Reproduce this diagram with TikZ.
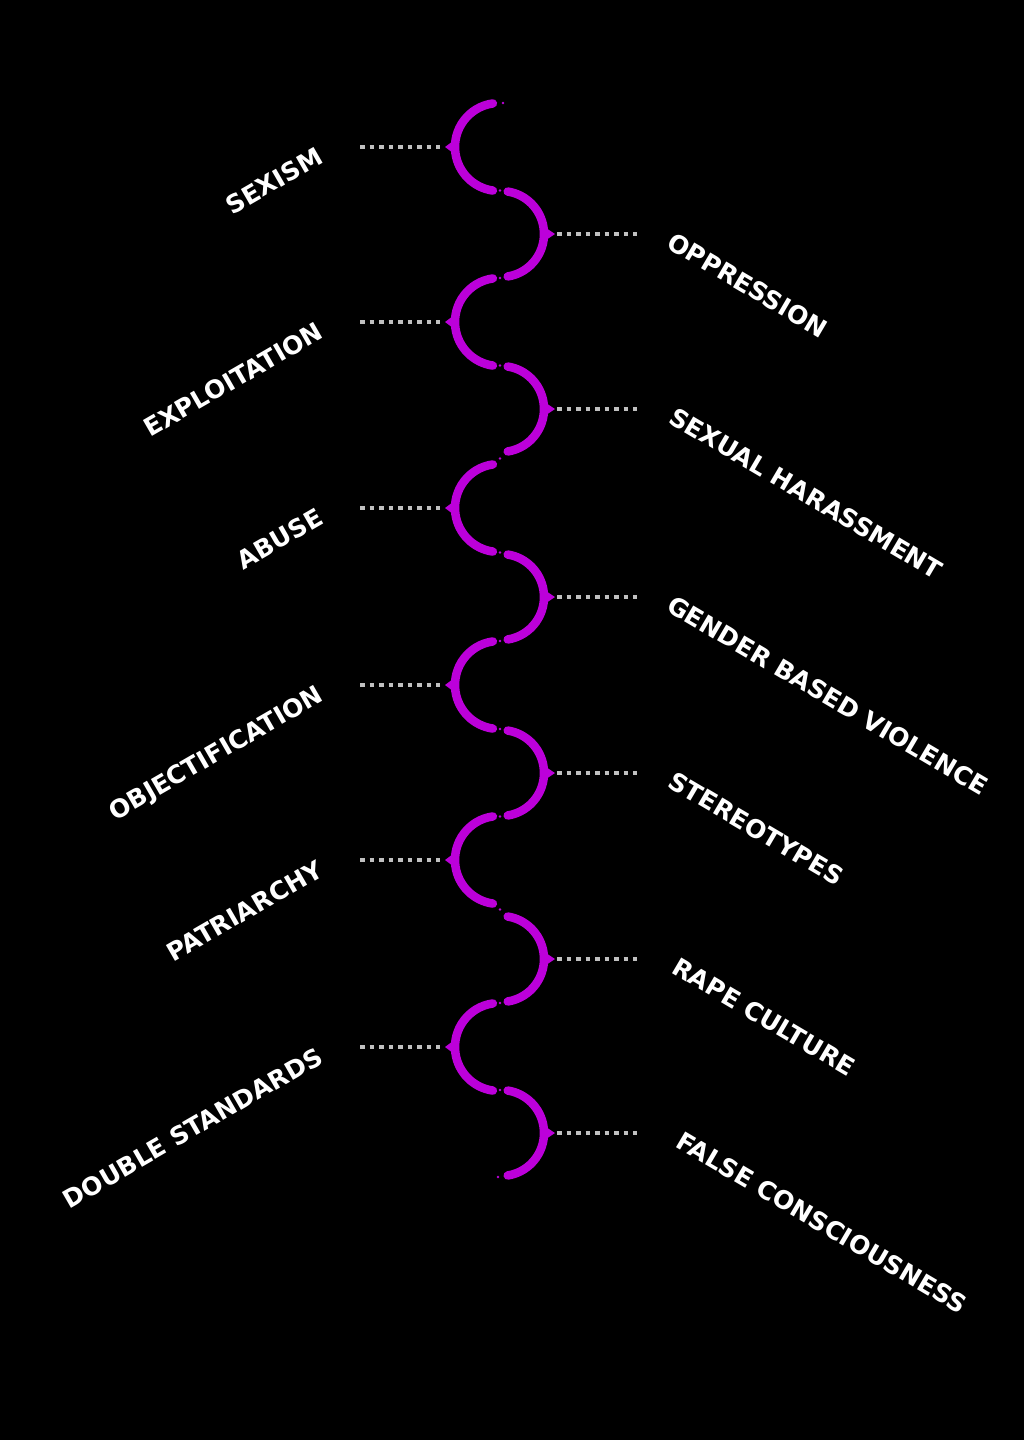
\documentclass[tikz,border=0pt]{standalone}
\usepackage{fontspec}
\setmainfont{DejaVu Sans}
\definecolor{wave}{RGB}{188,0,218}
\definecolor{dotgray}{RGB}{192,192,192}
\begin{document}
\begin{tikzpicture}[x=1pt,y=-1pt,
  wavearc/.style={draw=wave,line width=8.5pt,line cap=round},
  dotline/.style={draw=dotgray,line width=4.5pt,dash pattern=on 4.5pt off 5pt},
  lbl/.style={text=white,font=\bfseries\fontsize{25}{29}\selectfont,inner sep=0pt},
  leftlbl/.style={lbl,rotate=30,anchor=base east},
  rightlbl/.style={lbl,rotate=-30.5,anchor=base west},
  gapdot/.style={fill=wave}]
\fill[black] (0,0) rectangle (1024,1440);
\useasboundingbox (0,0) rectangle (1024,1440);

% left arcs
\foreach \y/\t [count=\i] in {147/SEXISM,322/EXPLOITATION,508/ABUSE,685/OBJECTIFICATION,860/PATRIARCHY,1047/DOUBLE STANDARDS}{
  \coordinate (lc\i) at (499,\y);
  \draw[wavearc] (lc\i) ++(98:44pt) arc[start angle=98,end angle=262,radius=44pt];
  \fill[wave] ([shift={(-46,-6)}]lc\i) -- ([shift={(-54,0)}]lc\i) -- ([shift={(-46,6)}]lc\i) -- cycle;
  \coordinate (ls\i) at (360,\y);
  \coordinate (le\i) at (440,\y);
  \draw[dotline] (ls\i) -- (le\i);
  \node[leftlbl] (ll\i) at (325,{\y+15}) {\t};
}

% right arcs
\foreach \y/\x/\t [count=\i] in {234/665/OPPRESSION,409/667/SEXUAL HARASSMENT,597/665/GENDER BASED VIOLENCE,773/666/STEREOTYPES,959/670/RAPE CULTURE,1133/674/FALSE CONSCIOUSNESS}{
  \coordinate (rc\i) at (501,\y);
  \draw[wavearc] (rc\i) ++(-81:43pt) arc[start angle=-81,end angle=81,radius=43pt];
  \fill[wave] ([shift={(45,-6)}]rc\i) -- ([shift={(54,0)}]rc\i) -- ([shift={(45,6)}]rc\i) -- cycle;
  \coordinate (rs\i) at (557,\y);
  \coordinate (re\i) at (637,\y);
  \draw[dotline] (rs\i) -- (re\i);
  \node[rightlbl] (rl\i) at (\x,{\y+13}) {\t};
}

% tiny dots in the gaps
\foreach \y [count=\i] in {190.5,278,365.5,458.5,552.5,641,729,816.5,909.5,1003,1090}{
  \fill[gapdot] (500,\y) circle (1.4pt);
}
\fill[gapdot] (503,103) circle (1.4pt);
\fill[gapdot] (498,1177) circle (1.4pt);
\end{tikzpicture}
\end{document}
